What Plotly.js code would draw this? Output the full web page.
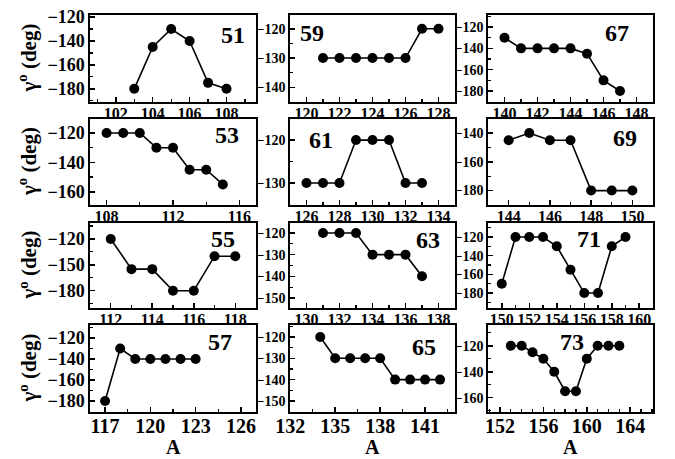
<!DOCTYPE html>
<html>
<head>
<meta charset="utf-8">
<script src="https://cdn.plot.ly/plotly-3.0.1.min.js"></script>
<style>html,body{margin:0;padding:0;background:#fff}#chart{width:675px;height:459px}</style>
</head>
<body>
<div id="chart"></div>
<script>
// ---- data (A, gamma in degrees) ----
const labels = ['51','59','67','53','61','69','55','63','71','57','65','73'];
const A51 = [103,104,105,106,107,108];
const G51 = [-180,-145,-130,-140,-175,-180];
const A59 = [121,122,123,124,125,126,127,128];
const G59 = [-130,-130,-130,-130,-130,-130,-120,-120];
const A67 = [140,141,142,143,144,145,146,147];
const G67 = [-130,-140,-140,-140,-140,-145,-170,-180];
const A53 = [108,109,110,111,112,113,114,115];
const G53 = [-120,-120,-120,-130,-130,-145,-145,-155];
const A61 = [126,127,128,129,130,131,132,133];
const G61 = [-130,-130,-130,-120,-120,-120,-130,-130];
const A69 = [144,145,146,147,148,149,150];
const G69 = [-145,-140,-145,-145,-180,-180,-180];
const A55 = [112,113,114,115,116,117,118];
const G55 = [-120,-155,-155,-180,-180,-140,-140];
const A63 = [131,132,133,134,135,136,137];
const G63 = [-120,-120,-120,-130,-130,-130,-140];
const A71 = [150,151,152,153,154,155,156,157,158,159];
const G71 = [-170,-120,-120,-120,-130,-155,-180,-180,-130,-120];
const A57 = [117,118,119,120,121,122,123];
const G57 = [-180,-130,-140,-140,-140,-140,-140];
const A65 = [134,135,136,137,138,139,140,141,142];
const G65 = [-120,-130,-130,-130,-130,-140,-140,-140,-140];
const A73 = [153,154,155,156,157,158,159,160,161,162,163];
const G73 = [-120,-120,-125,-130,-140,-155,-155,-130,-120,-120,-120];
const yTitle = 'γ<sup>o</sup> (deg)';
const xTitle = 'A';

const seriesA = [A51,A59,A67,A53,A61,A69,A55,A63,A71,A57,A65,A73];
const seriesG = [G51,G59,G67,G53,G61,G69,G55,G63,G71,G57,G65,G73];

// ---- layout config ----
const xDom = [[0.1333,0.3793],[0.4296,0.6741],[0.7230,0.9674]];
const yDom = [[0.7778,0.9673],[0.5534,0.7407],[0.3290,0.5142],[0.1024,0.2919]];
const xCfg = [
  {r:[100.6,109.6],d:2,m:1},{r:[119,129],d:2,m:1},{r:[139,149],d:2,m:1},
  {r:[107,117],d:4,m:2},{r:[125,135],d:2,m:1},{r:[143,151],d:2,m:1},
  {r:[111,119],d:2,m:1},{r:[129,139],d:2,m:1},{r:[149,161],d:2,m:1},
  {r:[116,127],d:3,m:1.5},{r:[131.98,143],d:3,m:1.5},{r:[150.9,166.1],d:4,m:1}
];
const yCfg = [
  {r:[-191,-118.3],d:20,m:10},{r:[-145,-115.3],d:10,m:5},{r:[-190.3,-108.7],d:20,m:10},
  {r:[-169,-110.5],d:20,m:10},{r:[-135.1,-115.1],d:10,m:5},{r:[-190,-130.3],d:20,m:10},
  {r:[-200,-101.5],d:30,m:15},{r:[-154.6,-115.4],d:10,m:5},{r:[-196,-105],d:20,m:10},
  {r:[-190.5,-107.6],d:20,m:10},{r:[-155.2,-114.4],d:10,m:5},{r:[-171,-104],d:20,m:10}
];
const labelPos = [
  [0.3452,0.9237],[0.4622,0.9281],[0.9141,0.9281],
  [0.3363,0.7059],[0.4756,0.6950],[0.9259,0.6993],
  [0.3304,0.4793],[0.6341,0.4771],[0.8726,0.4793],
  [0.3259,0.2549],[0.6281,0.2440],[0.8474,0.2549]
];
const FAM = '"Liberation Serif", serif';

const traces = [];
const layout = {
  width:675, height:459,
  margin:{l:0,r:0,t:0,b:0},
  paper_bgcolor:'#fff', plot_bgcolor:'#fff',
  showlegend:false,
  annotations:[]
};

for (let i=0;i<12;i++){
  const row = Math.floor(i/3), col = i%3;
  const n = i===0 ? '' : String(i+1);
  traces.push({
    x: seriesA[i], y: seriesG[i], type:'scatter', mode:'lines+markers',
    xaxis:'x'+n, yaxis:'y'+n,
    line:{color:'#000', width:1.6},
    marker:{color:'#000', size:10}
  });
  const xc = xCfg[i], yc = yCfg[i];
  layout['xaxis'+n] = {
    domain:xDom[col], anchor:'y'+n, range:xc.r, dtick:xc.d, tick0:0,
    showgrid:false, zeroline:false, showline:true, linecolor:'#000', linewidth:1.6, mirror:true,
    ticks:'inside', ticklen:5, tickwidth:1.5, tickcolor:'#000',
    ticklabelstandoff: row===3 ? -5 : -4,
    minor:{dtick:xc.m, tick0:0, ticks:'inside', ticklen:3, tickwidth:1.2, tickcolor:'#000', showgrid:false},
    tickfont:{family:FAM, size: row===3 ? 20 : 16, color:'#000', weight:'bold'},
    fixedrange:true
  };
  layout['yaxis'+n] = {
    domain:yDom[row], anchor:'x'+n, range:yc.r, dtick:yc.d, tick0:0,
    showgrid:false, zeroline:false, showline:true, linecolor:'#000', linewidth:1.6, mirror:true,
    ticks:'inside', ticklen:5, tickwidth:1.5, tickcolor:'#000',
    minor:{dtick:yc.m, tick0:0, ticks:'inside', ticklen:3, tickwidth:1.2, tickcolor:'#000', showgrid:false},
    tickfont:{family:FAM, size: col===0 ? 18 : 14, color:'#000', weight:'bold'},
    fixedrange:true
  };
  layout.annotations.push({
    xref:'paper', yref:'paper', x:labelPos[i][0], y:labelPos[i][1],
    text:'<b>'+labels[i]+'</b>', showarrow:false, xanchor:'center', yanchor:'middle',
    font:{family:FAM, size:24, color:'#000'}
  });
}
// y titles (column 1) and x titles (bottom row)
const yTitleY = [0.8725,0.6471,0.4216,0.1972];
yTitleY.forEach(v=>layout.annotations.push({
  xref:'paper', yref:'paper', x:0.0415, y:v, text:'<b>'+yTitle+'</b>', textangle:-90,
  showarrow:false, xanchor:'center', yanchor:'middle', font:{family:FAM, size:21, color:'#000'}
}));
const xTitleX = [0.2563,0.5519,0.8452];
xTitleX.forEach(v=>layout.annotations.push({
  xref:'paper', yref:'paper', x:v, y:0, text:'<b>'+xTitle+'</b>',
  showarrow:false, xanchor:'center', yanchor:'bottom', borderpad:0,
  font:{family:FAM, size:20, color:'#000'}
}));

Plotly.newPlot('chart', traces, layout, {displayModeBar:false, staticPlot:true});
</script>
</body>
</html>
